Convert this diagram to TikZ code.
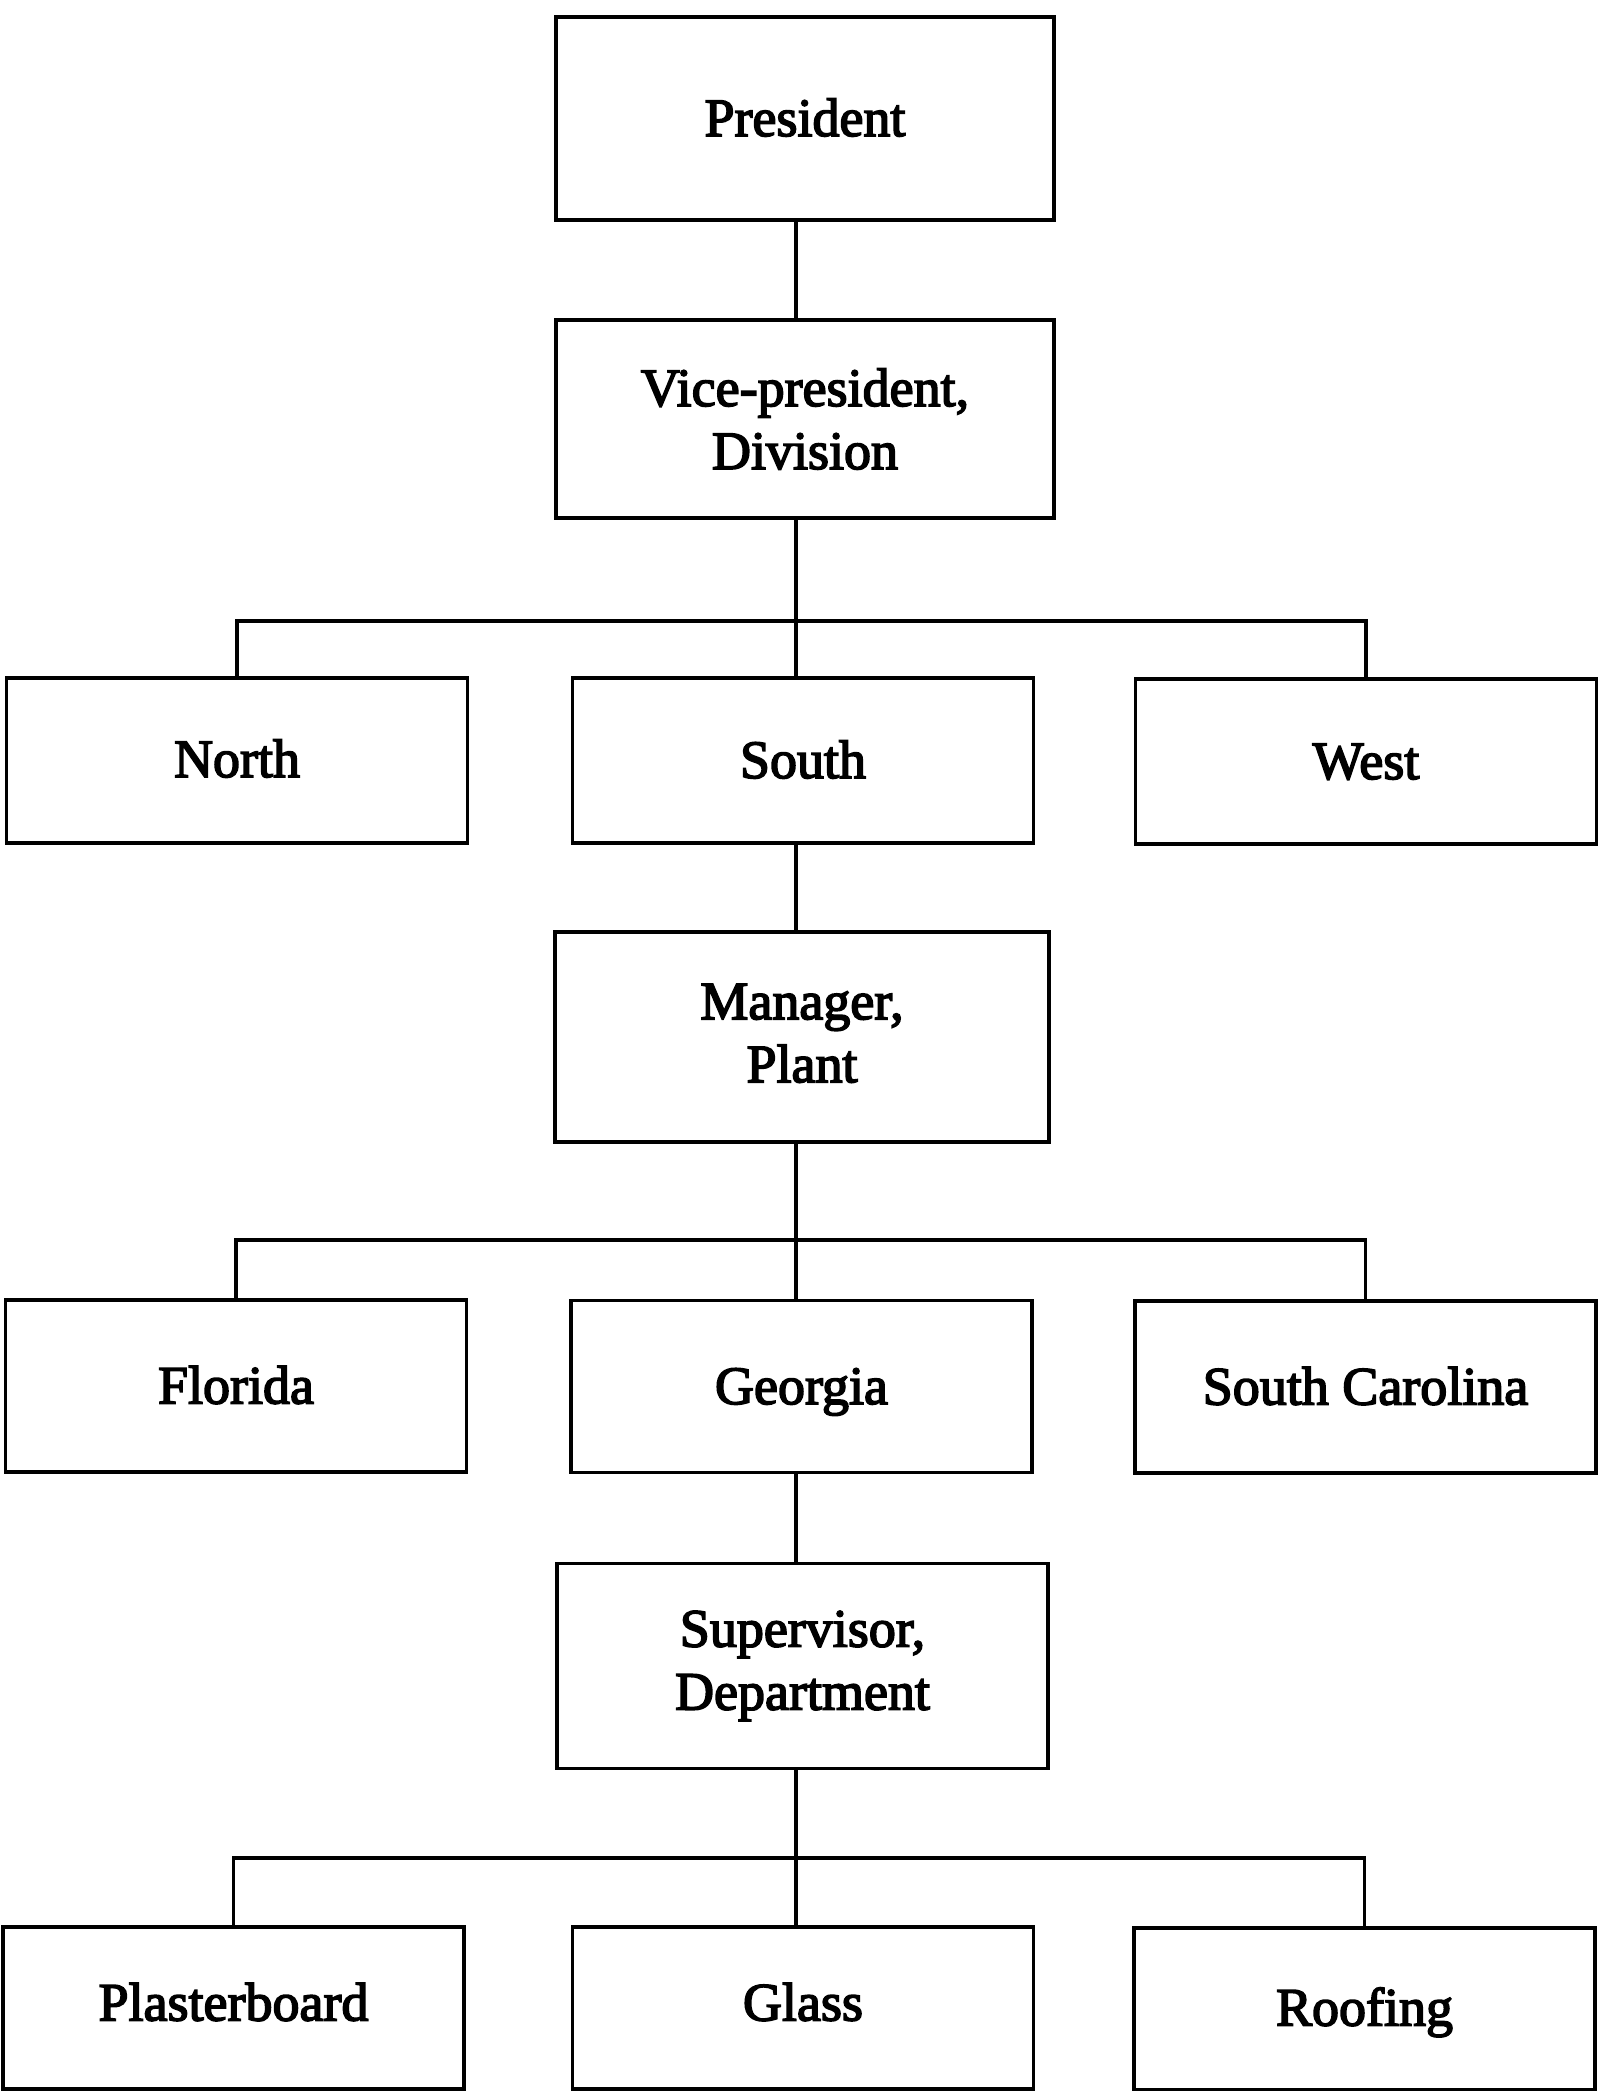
\documentclass[tikz,border=0pt]{standalone}
\usepackage{fontspec}
\setmainfont{Liberation Serif}
\newfontfamily\boxfont[FakeBold=3]{Liberation Serif}
\begin{document}
\begin{tikzpicture}[x=1pt,y=-1pt,
  line width=3.4pt,
  unit/.style={draw, rectangle, inner sep=0pt, align=center,
    font=\boxfont\fontsize{54}{63}\selectfont},
  oneline/.style={unit, text height=45pt, text depth=10pt},
  top/.style={unit, minimum width=498pt},
  side/.style={oneline, minimum width=461pt}]
\useasboundingbox (0,0) rectangle (1599,2091);

% level 1 and 2
\node[top, oneline, minimum height=203pt] (pres) at (805,118.5) {President};
\node[top, minimum height=198pt] (vp) at (805,419) {Vice-president,\\Division};

% divisions
\node[side, minimum height=165pt] (north) at (237,760.5) {\raisebox{1pt}{North}};
\node[side, minimum height=165pt] (south) at (803,760.5) {South};
\node[side, minimum height=165pt] (west) at (1366,761.5) {West};

% plant level
\node[unit, minimum width=494pt, minimum height=210pt] (mgr) at (802,1037) {\raisebox{8pt}{Manager,}\\\raisebox{8pt}{Plant}};

\node[side, minimum height=172pt] (florida) at (236,1386) {Florida};
\node[side, minimum height=172pt] (georgia) at (801.5,1386.5) {Georgia};
\node[side, minimum height=172pt] (sc) at (1365.5,1387) {South Carolina};

% department level
\node[unit, minimum width=491pt, minimum height=205pt] (sup) at (802.5,1666) {Supervisor,\\Department};

\node[side, minimum height=162pt] (plaster) at (233.5,2008) {\raisebox{5pt}{Plasterboard}};
\node[side, minimum height=162pt] (glass) at (803,2008) {\raisebox{5pt}{Glass}};
\node[side, minimum height=162pt] (roof) at (1364.5,2009) {\raisebox{1pt}{Roofing}};

% trunk and branch buses
\coordinate (b1) at (796,621);
\coordinate (b2) at (796,1240);
\coordinate (b3) at (796,1858);

\draw (pres.south -| b1) -- (vp.north -| b1);
\draw (vp.south -| b1) -- (south.north -| b1);
\draw (north.north) |- (b1) -| (west.north);

\draw (south.south -| b2) -- (mgr.north -| b2);
\draw (mgr.south -| b2) -- (georgia.north -| b2);
\draw (florida.north) |- (b2) -| (sc.north);

\draw (georgia.south -| b3) -- (sup.north -| b3);
\draw (sup.south -| b3) -- (glass.north -| b3);
\draw (plaster.north) |- (b3) -| (roof.north);
\end{tikzpicture}
\end{document}
